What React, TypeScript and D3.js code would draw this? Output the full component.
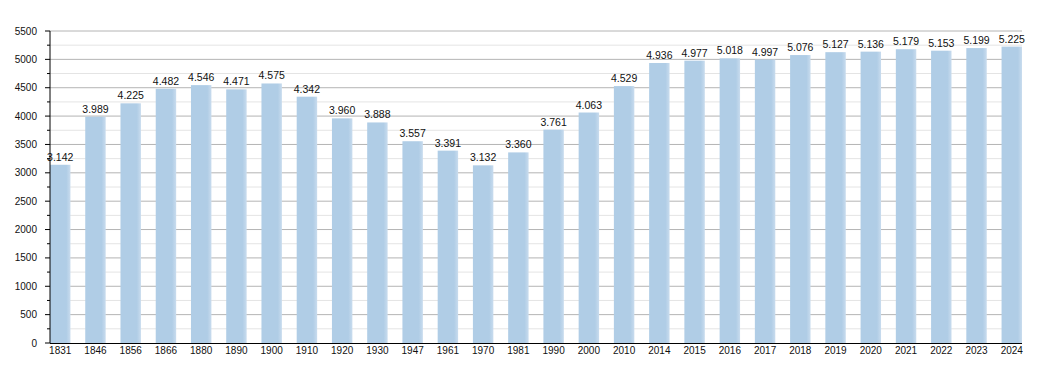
import React from "react";
import * as d3 from "d3";

const years = ["1831","1846","1856","1866","1880","1890","1900","1910","1920","1930","1947","1961","1970","1981","1990","2000","2010","2014","2015","2016","2017","2018","2019","2020","2021","2022","2023","2024"];
const population = [3142,3989,4225,4482,4546,4471,4575,4342,3960,3888,3557,3391,3132,3360,3761,4063,4529,4936,4977,5018,4997,5076,5127,5136,5179,5153,5199,5225];
const majorTicks = [0,500,1000,1500,2000,2500,3000,3500,4000,4500,5000,5500];
const minorTicks = [250,750,1250,1750,2250,2750,3250,3750,4250,4750,5250];

const W = 1050, H = 373;
const left = 50, right = 1022, top = 31, bottom = 343;

const fmt = (v: number) => {
  const s = String(v);
  return s.length > 3 ? s.slice(0, s.length - 3) + "." + s.slice(-3) : s;
};

export default function App() {
  const x = d3.scaleBand<string>().domain(years).range([left, right]).paddingInner(0.42).paddingOuter(0);
  const y = d3.scaleLinear().domain([0, 5500]).range([bottom, top]);
  const font = "'Liberation Sans', Arial, sans-serif";
  return (
    <svg width={W} height={H} style={{ position: "absolute", left: 0, top: 0, background: "#fff" }}>
      <defs>
        <linearGradient id="barg" x1="0" x2="1" y1="0" y2="0">
          <stop offset="0" stopColor="#b0cde6" />
          <stop offset="0.8" stopColor="#b0cde6" />
          <stop offset="1" stopColor="#c9dcee" />
        </linearGradient>
      </defs>
      <rect x={0} y={0} width={W} height={H} fill="#fff" />
      {minorTicks.map((t) => (
        <line key={"mg" + t} x1={left} x2={right} y1={y(t)} y2={y(t)} stroke="#e4e4e4" strokeWidth={1} />
      ))}
      {majorTicks.slice(1).map((t) => (
        <line key={"g" + t} x1={left} x2={right} y1={y(t)} y2={y(t)} stroke="#b4b4b4" strokeWidth={1} />
      ))}
      {years.map((yr, i) => (
        <rect key={yr} x={x(yr)!} y={y(population[i])} width={x.bandwidth()} height={bottom - y(population[i])} fill="url(#barg)" />
      ))}
      {years.map((yr, i) => (
        <text key={"v" + yr} x={x(yr)! + x.bandwidth() / 2} y={y(population[i]) - 4} textAnchor="middle" fontFamily={font} fontSize={10.5} fill="#111">
          {fmt(population[i])}
        </text>
      ))}
      <line x1={left} x2={left} y1={top} y2={bottom} stroke="#000" strokeWidth={1} />
      <line x1={left} x2={right} y1={bottom + 0.5} y2={bottom + 0.5} stroke="#000" strokeWidth={1.2} />
      {majorTicks.map((t) => (
        <g key={"t" + t}>
          <line x1={left - 5} x2={left} y1={y(t)} y2={y(t)} stroke="#000" />
          <text x={37} y={y(t)} dy="0.35em" textAnchor="end" fontFamily={font} fontSize={10} fill="#111">{t}</text>
        </g>
      ))}
      {minorTicks.map((t) => (
        <line key={"mt" + t} x1={left - 3} x2={left} y1={y(t)} y2={y(t)} stroke="#000" />
      ))}
      {years.map((yr) => (
        <text key={"x" + yr} x={x(yr)! + x.bandwidth() / 2} y={354} textAnchor="middle" fontFamily={font} fontSize={10} fill="#111">{yr}</text>
      ))}
    </svg>
  );
}
